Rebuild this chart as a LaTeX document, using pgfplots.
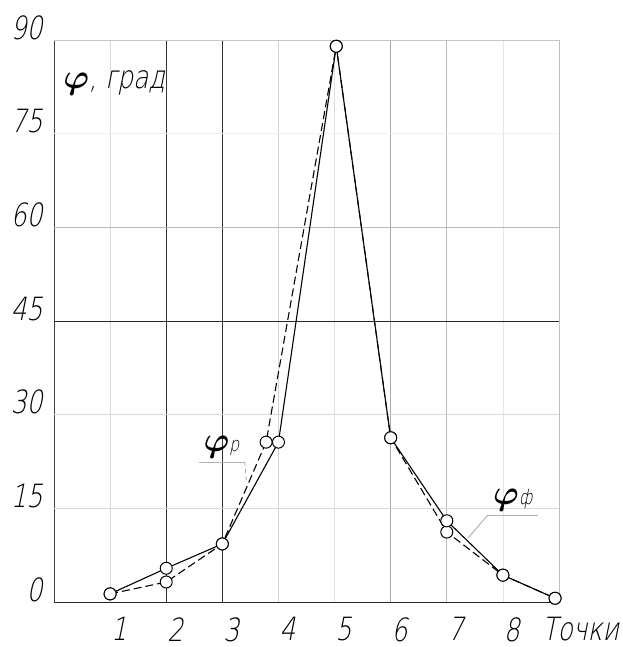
\documentclass[border=0pt]{standalone}
\usepackage{fontspec}
\usepackage{amsmath}
\usepackage{bm}
\usepackage{pgfplots}
\pgfplotsset{compat=1.18}
\newfontfamily\gost{DejaVu Sans ExtraLight}[FakeSlant=0.2,FakeStretch=0.78]

\begin{document}
\begin{tikzpicture}
\begin{axis}[
  scale only axis,
  width=252.5pt, height=281pt,
  xmin=0, xmax=9, ymin=0, ymax=90,
  xtick={1,...,8}, ytick={0,15,...,90},
  axis line style={draw=none},
  major tick length=0pt,
  /pgf/number format/assume math mode=true,
  ticklabel style={font=\gost\fontsize{16}{17}\selectfont, inner sep=0pt},
  xticklabel style={anchor=north, yshift=-7.5pt, xshift=4.5pt},
  yticklabel style={anchor=south east, xshift=-5.5pt},
  clip=false,
]
% grid lines, each in its own shade as in the scan
\draw[black!75] (axis cs:0,0) -- (axis cs:0,90);
\draw[gray!30] (axis cs:1,0) -- (axis cs:1,90);
\draw[black!80] (axis cs:2,0) -- (axis cs:2,90);
\draw[black!80] (axis cs:3,0) -- (axis cs:3,90);
\draw[gray!35] (axis cs:4,0) -- (axis cs:4,90);
\draw[gray!25] (axis cs:5,0) -- (axis cs:5,90);
\draw[gray!70] (axis cs:6,0) -- (axis cs:6,90);
\draw[gray!50] (axis cs:7,0) -- (axis cs:7,90);
\draw[gray!20] (axis cs:8,0) -- (axis cs:8,90);
\draw[gray!50] (axis cs:9,0) -- (axis cs:9,90);
\draw[black!85] (axis cs:0,0) -- (axis cs:9,0);
\draw[gray!30] (axis cs:0,15) -- (axis cs:9,15);
\draw[gray!30] (axis cs:0,30) -- (axis cs:9,30);
\draw[black!85] (axis cs:0,45) -- (axis cs:9,45);
\draw[gray!55] (axis cs:0,60) -- (axis cs:9,60);
\draw[gray!12] (axis cs:0,75) -- (axis cs:9,75);
\draw[gray!45] (axis cs:0,90) -- (axis cs:9,90);

% phi_r (calculated), dashed
\addplot[black, line width=0.55pt, dash pattern=on 4pt off 2pt,
  mark=*, mark size=3pt, mark options={solid, fill=white, line width=0.5pt}]
  coordinates {(1,1.3) (2,3.2) (3,9.3) (3.78,25.6) (5.03,89) (6,26.3) (7,11.2) (8,4.3) (8.93,0.6)};
% phi_f (actual), solid
\addplot[black, line width=0.55pt,
  mark=*, mark size=3pt, mark options={fill=white, line width=0.5pt}]
  coordinates {(1,1.3) (2,5.4) (3,9.3) (4,25.6) (5.03,89) (6,26.3) (7,13.0) (8,4.3) (8.93,0.6)};

% labels
\node[anchor=north west, inner sep=0pt, xshift=4.5pt, yshift=-15pt]
  at (rel axis cs:0,1) {\fontsize{18}{20}\selectfont$\bm{\varphi}$\gost\fontsize{16}{17}\selectfont, град};
\node[anchor=north west, inner sep=0pt, xshift=-8.5pt, yshift=-7.5pt]
  at (axis cs:9,0) {\gost\fontsize{16}{17}\selectfont Точки};

\draw[gray!60, line width=0.4pt] (axis cs:2.59,22.4) -- (axis cs:3.40,22.4);
\draw[gray!70, line width=0.4pt, dash pattern=on 2pt off 1.5pt] (axis cs:3.40,22.4) -- (axis cs:3.43,19.1);
\node[anchor=south west, inner sep=0pt, yshift=2pt] at (axis cs:2.66,22.4)
  {\fontsize{18}{20}\selectfont$\bm{\varphi}$\gost\fontsize{10}{11}\selectfont р};

\draw[gray!60, line width=0.4pt] (axis cs:7.73,13.9) -- (axis cs:8.63,13.9);
\draw[gray!70, line width=0.4pt] (axis cs:7.73,13.9) -- (axis cs:7.38,10.25);
\node[anchor=south west, inner sep=0pt, yshift=2pt] at (axis cs:7.82,13.9)
  {\fontsize{18}{20}\selectfont$\bm{\varphi}$\gost\fontsize{10}{11}\selectfont ф};
\end{axis}
% page margins as in the reference
\path ([shift={(-27pt,-22.5pt)}]current axis.south west)
  rectangle ([shift={(31.5pt,20pt)}]current axis.north east);
\end{tikzpicture}
\end{document}
